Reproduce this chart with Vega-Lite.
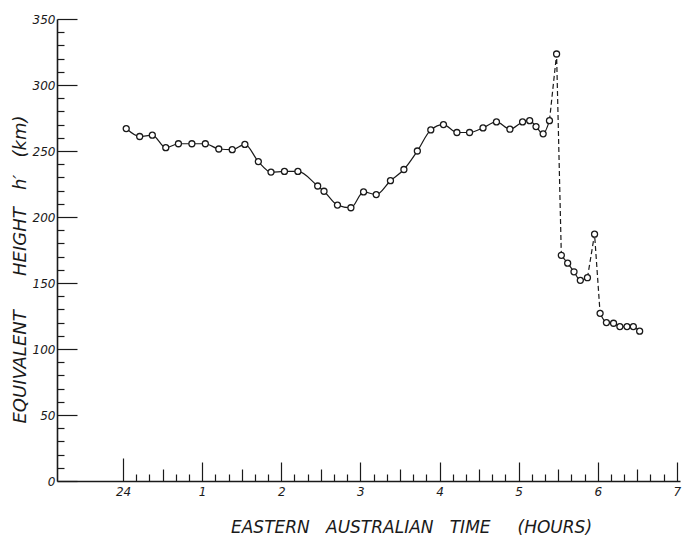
{
  "$schema": "https://vega.github.io/schema/vega-lite/v6.json",
  "autosize": "none",
  "width": 623,
  "height": 462,
  "padding": {"left": 57, "top": 19, "right": 2, "bottom": 63},
  "background": "white",
  "config": {"view": {"stroke": null}},
  "datasets": {
    "points": [
      {"t": 0.04, "h": 267}, {"t": 0.21, "h": 261}, {"t": 0.37, "h": 262}, {"t": 0.54, "h": 252.5},
      {"t": 0.70, "h": 255.5}, {"t": 0.87, "h": 255.5}, {"t": 1.04, "h": 255.5}, {"t": 1.21, "h": 251.5},
      {"t": 1.38, "h": 251}, {"t": 1.54, "h": 255}, {"t": 1.71, "h": 242}, {"t": 1.87, "h": 234},
      {"t": 2.04, "h": 234.5}, {"t": 2.21, "h": 234.5}, {"t": 2.46, "h": 223.5}, {"t": 2.54, "h": 219.5},
      {"t": 2.71, "h": 209}, {"t": 2.88, "h": 207}, {"t": 3.04, "h": 219}, {"t": 3.20, "h": 217},
      {"t": 3.38, "h": 227.5}, {"t": 3.55, "h": 236}, {"t": 3.72, "h": 250}, {"t": 3.89, "h": 266},
      {"t": 4.05, "h": 270}, {"t": 4.22, "h": 264}, {"t": 4.38, "h": 264}, {"t": 4.55, "h": 267.5},
      {"t": 4.72, "h": 272}, {"t": 4.89, "h": 266.5}, {"t": 5.05, "h": 272}, {"t": 5.14, "h": 273},
      {"t": 5.22, "h": 268.5}, {"t": 5.31, "h": 263}, {"t": 5.39, "h": 273}, {"t": 5.48, "h": 323.5},
      {"t": 5.54, "h": 171}, {"t": 5.62, "h": 165}, {"t": 5.70, "h": 158.5}, {"t": 5.78, "h": 152},
      {"t": 5.87, "h": 154}, {"t": 5.96, "h": 187}, {"t": 6.03, "h": 127}, {"t": 6.11, "h": 120},
      {"t": 6.20, "h": 119.5}, {"t": 6.28, "h": 117}, {"t": 6.37, "h": 117}, {"t": 6.45, "h": 117},
      {"t": 6.53, "h": 113.5}
    ],
    "lines": [
      {"seg": "A", "kind": "solid", "t": 0.04, "h": 267}, {"seg": "A", "kind": "solid", "t": 0.21, "h": 261},
      {"seg": "A", "kind": "solid", "t": 0.37, "h": 262}, {"seg": "A", "kind": "solid", "t": 0.54, "h": 252.5},
      {"seg": "A", "kind": "solid", "t": 0.70, "h": 255.5}, {"seg": "A", "kind": "solid", "t": 0.87, "h": 255.5},
      {"seg": "A", "kind": "solid", "t": 1.04, "h": 255.5}, {"seg": "A", "kind": "solid", "t": 1.21, "h": 251.5},
      {"seg": "A", "kind": "solid", "t": 1.38, "h": 251}, {"seg": "A", "kind": "solid", "t": 1.54, "h": 255},
      {"seg": "A", "kind": "solid", "t": 1.71, "h": 242}, {"seg": "A", "kind": "solid", "t": 1.87, "h": 234},
      {"seg": "A", "kind": "solid", "t": 2.04, "h": 234.5}, {"seg": "A", "kind": "solid", "t": 2.21, "h": 234.5},
      {"seg": "A", "kind": "solid", "t": 2.46, "h": 223.5}, {"seg": "A", "kind": "solid", "t": 2.54, "h": 219.5},
      {"seg": "A", "kind": "solid", "t": 2.71, "h": 209}, {"seg": "A", "kind": "solid", "t": 2.88, "h": 207},
      {"seg": "A", "kind": "solid", "t": 3.04, "h": 219}, {"seg": "A", "kind": "solid", "t": 3.20, "h": 217},
      {"seg": "A", "kind": "solid", "t": 3.38, "h": 227.5}, {"seg": "A", "kind": "solid", "t": 3.55, "h": 236},
      {"seg": "A", "kind": "solid", "t": 3.72, "h": 250}, {"seg": "A", "kind": "solid", "t": 3.89, "h": 266},
      {"seg": "A", "kind": "solid", "t": 4.05, "h": 270}, {"seg": "A", "kind": "solid", "t": 4.22, "h": 264},
      {"seg": "A", "kind": "solid", "t": 4.38, "h": 264}, {"seg": "A", "kind": "solid", "t": 4.55, "h": 267.5},
      {"seg": "A", "kind": "solid", "t": 4.72, "h": 272}, {"seg": "A", "kind": "solid", "t": 4.89, "h": 266.5},
      {"seg": "A", "kind": "solid", "t": 5.05, "h": 272}, {"seg": "A", "kind": "solid", "t": 5.14, "h": 273},
      {"seg": "A", "kind": "solid", "t": 5.22, "h": 268.5}, {"seg": "A", "kind": "solid", "t": 5.31, "h": 263},
      {"seg": "A", "kind": "solid", "t": 5.39, "h": 273},
      {"seg": "B", "kind": "dashed", "t": 5.39, "h": 273}, {"seg": "B", "kind": "dashed", "t": 5.48, "h": 323.5},
      {"seg": "B", "kind": "dashed", "t": 5.54, "h": 171},
      {"seg": "C", "kind": "solid", "t": 5.54, "h": 171}, {"seg": "C", "kind": "solid", "t": 5.62, "h": 165},
      {"seg": "C", "kind": "solid", "t": 5.70, "h": 158.5}, {"seg": "C", "kind": "solid", "t": 5.78, "h": 152},
      {"seg": "C", "kind": "solid", "t": 5.87, "h": 154},
      {"seg": "D", "kind": "dashed", "t": 5.87, "h": 154}, {"seg": "D", "kind": "dashed", "t": 5.96, "h": 187},
      {"seg": "D", "kind": "dashed", "t": 6.03, "h": 127},
      {"seg": "E", "kind": "solid", "t": 6.03, "h": 127}, {"seg": "E", "kind": "solid", "t": 6.11, "h": 120},
      {"seg": "E", "kind": "solid", "t": 6.20, "h": 119.5}, {"seg": "E", "kind": "solid", "t": 6.28, "h": 117},
      {"seg": "E", "kind": "solid", "t": 6.37, "h": 117}, {"seg": "E", "kind": "solid", "t": 6.45, "h": 117},
      {"seg": "E", "kind": "solid", "t": 6.53, "h": 113.5}
    ]
  },
  "layer": [
    {
      "data": {"name": "lines"},
      "transform": [{"filter": "datum.kind === 'solid'"}],
      "mark": {"type": "line", "interpolate": "monotone", "color": "#1a1a1a", "strokeWidth": 1.2},
      "encoding": {
        "x": {
          "field": "t", "type": "quantitative",
          "scale": {"domain": [-0.835, 7.04], "nice": false, "zero": false},
          "axis": {
            "values": [0, 0.16667, 0.33333, 0.5, 0.66667, 0.83333, 1, 1.16667, 1.33333, 1.5, 1.66667, 1.83333, 2, 2.16667, 2.33333, 2.5, 2.66667, 2.83333, 3, 3.16667, 3.33333, 3.5, 3.66667, 3.83333, 4, 4.16667, 4.33333, 4.5, 4.66667, 4.83333, 5, 5.16667, 5.33333, 5.5, 5.66667, 5.83333, 6, 6.16667, 6.33333, 6.5, 6.66667, 6.83333, 7],
            "tickCount": 200,
            "title": "EASTERN\u00a0\u00a0\u00a0AUSTRALIAN\u00a0\u00a0\u00a0TIME\u00a0\u00a0\u00a0\u00a0\u00a0(HOURS)",
            "titleX": 354, "titleY": 46, "titleAnchor": "middle", "titleAlign": "center", "titleBaseline": "middle",
            "titleFont": "DejaVu Sans", "titleFontSize": 17, "titleFontWeight": "normal", "titleFontStyle": "italic", "titleColor": "#1a1a1a",
            "labelExpr": "datum.value === 0 ? '24' : (abs(datum.value - round(datum.value)) < 0.01 ? format(round(datum.value), 'd') : '')",
            "labelFont": "DejaVu Sans", "labelFontSize": 12, "labelFontStyle": "italic", "labelColor": "#1a1a1a",
            "tickSize": {"condition": [{"test": "datum.value === 0", "value": -23}, {"test": "abs(datum.value - round(datum.value)) < 0.01", "value": -19}, {"test": "abs(datum.value*2 - round(datum.value*2)) < 0.01", "value": -12}], "value": -7},
            "labelPadding": {"condition": {"test": "datum.value === 0", "value": 28}, "value": 24},
            "tickColor": "#1a1a1a", "tickWidth": 1.2,
            "domainColor": "#1a1a1a", "domainWidth": 1.6,
            "grid": false, "labelFlush": false, "labelOverlap": false
          }
        },
        "y": {
          "field": "h", "type": "quantitative",
          "scale": {"domain": [0, 350], "nice": false},
          "axis": {
            "values": [0, 10, 20, 30, 40, 50, 60, 70, 80, 90, 100, 110, 120, 130, 140, 150, 160, 170, 180, 190, 200, 210, 220, 230, 240, 250, 260, 270, 280, 290, 300, 310, 320, 330, 340, 350],
            "tickCount": 200,
            "title": "EQUIVALENT\u00a0\u00a0\u00a0\u00a0\u00a0\u00a0HEIGHT\u00a0\u00a0\u00a0h′\u00a0\u00a0\u00a0(km)",
            "titleX": -37, "titleY": 250, "titleAngle": -90, "titleAlign": "center", "titleBaseline": "middle",
            "titleFont": "DejaVu Sans", "titleFontSize": 18, "titleFontWeight": "normal", "titleFontStyle": "italic", "titleColor": "#1a1a1a",
            "labelExpr": "datum.value % 50 === 0 ? datum.label : ''",
            "labelFont": "DejaVu Sans", "labelFontSize": 12, "labelFontStyle": "italic", "labelColor": "#1a1a1a",
            "tickSize": {"condition": {"test": "datum.value % 50 === 0", "value": -20}, "value": -7},
            "labelPadding": {"condition": {"test": "datum.value % 50 === 0", "value": 22}, "value": 9},
            "tickColor": "#1a1a1a", "tickWidth": 1.2,
            "domainColor": "#1a1a1a", "domainWidth": 1.6,
            "grid": false, "labelOverlap": false, "labelFlush": false
          }
        },
        "detail": {"field": "seg"}
      }
    },
    {
      "data": {"name": "lines"},
      "transform": [{"filter": "datum.kind === 'dashed'"}],
      "mark": {"type": "line", "interpolate": "linear", "color": "#1a1a1a", "strokeWidth": 1.2, "strokeDash": [5, 3]},
      "encoding": {
        "x": {"field": "t", "type": "quantitative"},
        "y": {"field": "h", "type": "quantitative"},
        "detail": {"field": "seg"}
      }
    },
    {
      "data": {"name": "points"},
      "mark": {"type": "point", "shape": "circle", "filled": true, "fill": "white", "stroke": "#1a1a1a", "strokeWidth": 1.3, "size": 36, "opacity": 1},
      "encoding": {
        "x": {"field": "t", "type": "quantitative"},
        "y": {"field": "h", "type": "quantitative"}
      }
    }
  ]
}
